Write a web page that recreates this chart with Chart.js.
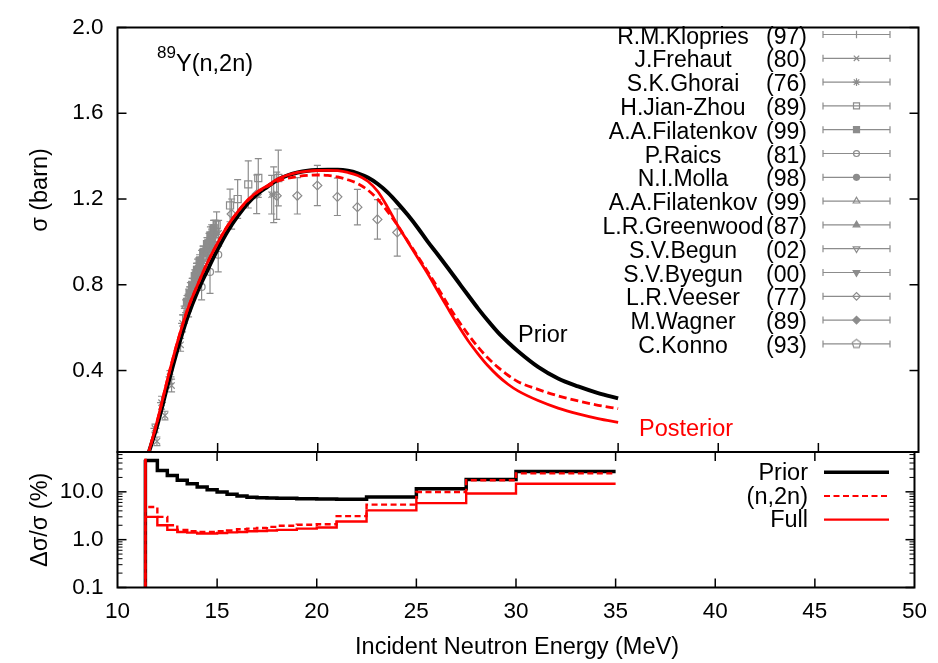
<!DOCTYPE html>
<html>
<head>
<meta charset="utf-8">
<title>89Y(n,2n)</title>
<script src="https://cdn.jsdelivr.net/npm/chart.js@4.4.0/dist/chart.umd.min.js"></script>
<style>
  html, body { margin: 0; padding: 0; background: #fff; }
  #wrap { position: relative; width: 938px; height: 663px; }
  #wrap canvas { position: absolute; left: 0; top: 0; }
</style>
</head>
<body>
<div id="wrap">
  <canvas id="xsChart" width="938" height="663"></canvas>
  <canvas id="uncChart" width="938" height="663"></canvas>
</div>
<script>
const FONT = "'Liberation Sans', Arial, Helvetica, sans-serif";
const GRAY = '#8c8c8c';
const RED = '#ff0000';

// axis ticks
const xTicks = [10, 15, 20, 25, 30, 35, 40, 45, 50];
const xsTicks = [0.4, 0.8, 1.2, 1.6, 2.0];
const uncTicks = [0.1, 1, 10];

// cross section curves (MeV, barn)
const energy = [11.5, 12.0, 12.5, 13.0, 13.5, 14.0, 14.5, 15.0, 15.5, 16.0, 16.5, 17.0, 17.5, 18.0, 18.5,
  19.0, 19.5, 20.0, 20.5, 21.0, 21.5, 22.0, 22.5, 23.0, 23.5, 24.0, 24.5, 25.0, 25.5, 26.0, 26.5, 27.0,
  27.5, 28.0, 28.5, 29.0, 29.5, 30.0, 31.0, 32.0, 33.0, 34.0, 35.0];
const priorXs = [0.0, 0.15, 0.33, 0.50, 0.65, 0.77, 0.87, 0.965, 1.05, 1.12, 1.18, 1.225, 1.258, 1.29, 1.31,
  1.324, 1.332, 1.335, 1.336, 1.336, 1.332, 1.32, 1.30, 1.27, 1.23, 1.18, 1.125, 1.065, 1.0, 0.94, 0.878, 0.815,
  0.752, 0.69, 0.632, 0.578, 0.532, 0.49, 0.417, 0.363, 0.326, 0.295, 0.27];
const n2nXs = [0.0, 0.17, 0.36, 0.535, 0.685, 0.80, 0.905, 0.995, 1.075, 1.14, 1.193, 1.232, 1.26, 1.283, 1.297,
  1.305, 1.31, 1.312, 1.31, 1.303, 1.29, 1.272, 1.242, 1.198, 1.14, 1.075, 1.003, 0.932, 0.86, 0.785, 0.707, 0.635,
  0.57, 0.51, 0.458, 0.415, 0.378, 0.348, 0.312, 0.282, 0.258, 0.238, 0.222];
const fullXs = [0.0, 0.17, 0.36, 0.535, 0.685, 0.80, 0.905, 0.995, 1.075, 1.14, 1.195, 1.235, 1.263, 1.293, 1.312,
  1.324, 1.33, 1.333, 1.334, 1.332, 1.324, 1.31, 1.283, 1.235, 1.16, 1.075, 1.0, 0.925, 0.85, 0.77, 0.69, 0.612,
  0.54, 0.478, 0.422, 0.375, 0.336, 0.305, 0.26, 0.225, 0.198, 0.176, 0.158];

// relative uncertainties (%), one value per energy bin
const binEdges = [11.4, 12.0, 12.5, 13.0, 13.5, 14.0, 14.5, 15.0, 15.5, 16.0, 16.5, 17.0, 17.5, 18.0,
  19.0, 20.0, 21.0, 22.5, 25.0, 27.5, 30.0, 32.5, 35.0];
const priorUnc = [47, 45, 28, 22, 17.4, 14.8, 12.6, 11.1, 9.9, 8.9, 8.2, 7.7, 7.5, 7.4, 7.3, 7.2, 7.1, 7.0, 7.8, 11.6, 18.2, 26.6];
const n2nUnc = [49, 4.8, 3.0, 2.0, 1.6, 1.5, 1.45, 1.45, 1.5, 1.55, 1.65, 1.7, 1.75, 1.85, 1.95, 2.05, 2.1, 3.1, 5.4, 9.9, 17.4, 24.3];
const fullUnc = [49, 3.0, 2.0, 1.6, 1.45, 1.4, 1.35, 1.35, 1.38, 1.42, 1.45, 1.5, 1.52, 1.55, 1.6, 1.7, 1.8, 2.4, 4.1, 5.8, 9.2, 14.8];

// measurements [E (MeV), sigma (b), dsigma (b)]
const klopries = [[13.33, 0.66, 0.04], [13.64, 0.77, 0.04], [13.97, 0.85, 0.05], [14.28, 0.93, 0.05], [14.57, 0.99, 0.05], [14.83, 1.05, 0.05]];
const frehaut = [[11.97, 0.07, 0.02], [12.37, 0.19, 0.02], [12.7, 0.33, 0.03], [13.15, 0.52, 0.03], [13.55, 0.69, 0.04],
  [14.05, 0.84, 0.05], [14.55, 0.96, 0.05], [15.05, 1.04, 0.06], [17.7, 1.22, 0.09]];
const ghorai = [[11.87, 0.13, 0.02], [12.2, 0.25, 0.03], [12.62, 0.37, 0.03], [13.25, 0.62, 0.04], [13.75, 0.78, 0.05],
  [14.2, 0.9, 0.06], [14.7, 1.01, 0.07], [17.8, 1.22, 0.13]];
const jianZhou = [[13.56, 0.74, 0.04], [14.0, 0.87, 0.05], [14.49, 0.97, 0.05], [14.95, 1.08, 0.06], [15.62, 1.17, 0.076],
  [16.0, 1.2, 0.09], [16.53, 1.268, 0.11], [17.03, 1.298, 0.09], [18.03, 1.298, 0.13]];
const filatenkovA = [[13.47, 0.72, 0.03], [13.6, 0.76, 0.03], [13.73, 0.8, 0.03], [13.86, 0.84, 0.03], [13.97, 0.87, 0.03],
  [14.1, 0.91, 0.03], [14.28, 0.95, 0.03], [14.47, 0.99, 0.03], [14.64, 1.03, 0.04], [14.8, 1.06, 0.04]];
const raics = [[14.2, 0.79, 0.06], [14.62, 0.86, 0.1], [15.03, 0.94, 0.08]];
const molla = [[13.64, 0.75, 0.04], [14.05, 0.85, 0.04], [14.67, 0.98, 0.05]];
const filatenkovB = [[13.4, 0.7, 0.03], [14.1, 0.89, 0.04], [14.8, 1.04, 0.04]];
const greenwood = [[14.5, 0.96, 0.05]];
const begun = [[14.3, 0.92, 0.05], [14.75, 1.02, 0.05]];
const byegun = [[13.9, 0.81, 0.04], [14.85, 1.03, 0.05]];
const veeser = [[14.7, 1.0, 0.06], [15.7, 1.13, 0.07], [16.95, 1.222, 0.09], [17.95, 1.215, 0.11], [18.98, 1.215, 0.085],
  [19.98, 1.263, 0.094], [20.98, 1.21, 0.087], [21.98, 1.162, 0.083], [22.98, 1.105, 0.092], [23.97, 1.044, 0.11]];
const wagner = [[14.1, 0.88, 0.04], [14.7, 1.0, 0.05]];
const konno = [[13.95, 0.86, 0.04], [14.9, 1.05, 0.05]];

// pentagon marker (not built in)
function pentagon(r) {
  const c = document.createElement('canvas');
  const s = Math.ceil(2 * r + 4);
  c.width = s; c.height = s;
  const g = c.getContext('2d');
  g.strokeStyle = GRAY;
  g.lineWidth = 1.2;
  g.beginPath();
  for (let i = 0; i < 5; i++) {
    const a = -Math.PI / 2 + i * 2 * Math.PI / 5;
    const px = s / 2 + r * Math.cos(a), py = s / 2 + r * Math.sin(a);
    if (i) g.lineTo(px, py); else g.moveTo(px, py);
  }
  g.closePath();
  g.stroke();
  return c;
}

const experiments = [
  { name: 'R.M.Klopries', year: '(97)', data: klopries, style: 'cross', fill: false, r: 4.5 },
  { name: 'J.Frehaut', year: '(80)', data: frehaut, style: 'crossRot', fill: false, r: 4.5 },
  { name: 'S.K.Ghorai', year: '(76)', data: ghorai, style: 'star', fill: false, r: 4.5 },
  { name: 'H.Jian-Zhou', year: '(89)', data: jianZhou, style: 'rect', fill: false, r: 5 },
  { name: 'A.A.Filatenkov', year: '(99)', data: filatenkovA, style: 'rect', fill: true, r: 5 },
  { name: 'P.Raics', year: '(81)', data: raics, style: 'circle', fill: false, r: 3.5 },
  { name: 'N.I.Molla', year: '(98)', data: molla, style: 'circle', fill: true, r: 3.5 },
  { name: 'A.A.Filatenkov', year: '(99)', data: filatenkovB, style: 'triangle', fill: false, r: 4.5 },
  { name: 'L.R.Greenwood', year: '(87)', data: greenwood, style: 'triangle', fill: true, r: 4.5 },
  { name: 'S.V.Begun', year: '(02)', data: begun, style: 'triangle', fill: false, r: 4.5, rot: 180 },
  { name: 'S.V.Byegun', year: '(00)', data: byegun, style: 'triangle', fill: true, r: 4.5, rot: 180 },
  { name: 'L.R.Veeser', year: '(77)', data: veeser, style: 'rectRot', fill: false, r: 4.5 },
  { name: 'M.Wagner', year: '(89)', data: wagner, style: 'rectRot', fill: true, r: 4.5 },
  { name: 'C.Konno', year: '(93)', data: konno, style: pentagon(4.5), fill: false, r: 4.5 }
];

Chart.defaults.font.family = FONT;
Chart.defaults.color = '#000';

function curve(ys, color, width, dash) {
  return {
    data: energy.map((e, i) => ({ x: e, y: ys[i] })),
    showLine: true, pointRadius: 0, borderColor: color, borderWidth: width,
    borderDash: dash || [], cubicInterpolationMode: 'monotone', fill: false
  };
}

function histo(vals, color, width, dash) {
  const pts = [{ x: binEdges[0], y: 1e-3 }];
  binEdges.forEach((e, i) => pts.push({ x: e, y: vals[Math.min(i, vals.length - 1)] }));
  return {
    data: pts, showLine: true, stepped: 'after', pointRadius: 0,
    borderColor: color, borderWidth: width, borderDash: dash || [], fill: false
  };
}

const expDatasets = experiments.map(ex => ({
  data: ex.data.map(p => ({ x: p[0], y: p[1] })),
  showLine: false,
  pointStyle: ex.style,
  pointRadius: ex.r,
  pointRotation: ex.rot || 0,
  pointBorderColor: GRAY,
  pointBackgroundColor: ex.fill ? GRAY : 'rgba(0,0,0,0)',
  pointBorderWidth: 1.2
}));

function marker(ctx, ex, x, y, r) {
  ctx.fillStyle = ex.fill ? GRAY : 'rgba(0,0,0,0)';
  ctx.strokeStyle = GRAY;
  ctx.lineWidth = 1.2;
  if (Chart.helpers && Chart.helpers.drawPoint) {
    Chart.helpers.drawPoint(ctx, { pointStyle: ex.style, radius: r, rotation: ex.rot || 0, borderWidth: 1.2 }, x, y);
  } else {
    ctx.beginPath(); ctx.arc(x, y, r, 0, Math.PI * 2); ctx.fill(); ctx.stroke();
  }
}

function line(ctx, x1, y1, x2, y2) {
  ctx.beginPath(); ctx.moveTo(x1, y1); ctx.lineTo(x2, y2); ctx.stroke();
}

const topDecor = {
  id: 'topDecor',
  beforeDatasetsDraw(chart) {
    const { ctx, chartArea: a } = chart;
    const xs = chart.scales.x, ys = chart.scales.y;
    ctx.save();
    ctx.beginPath(); ctx.rect(a.left, a.top, a.right - a.left, a.bottom - a.top); ctx.clip();
    ctx.strokeStyle = GRAY;
    ctx.lineWidth = 1.2;
    experiments.forEach(ex => ex.data.forEach(p => {
      const x = xs.getPixelForValue(p[0]);
      const y1 = ys.getPixelForValue(p[1] + p[2]);
      const y2 = ys.getPixelForValue(p[1] - p[2]);
      line(ctx, x, y1, x, y2);
      line(ctx, x - 3.5, y1, x + 3.5, y1);
      line(ctx, x - 3.5, y2, x + 3.5, y2);
    }));
    ctx.restore();
  },
  afterDraw(chart) {
    const { ctx, chartArea: a } = chart;
    const xs = chart.scales.x, ys = chart.scales.y;
    ctx.save();
    ctx.strokeStyle = '#000';
    ctx.lineWidth = 1.5;
    xsTicks.forEach(v => {
      const y = ys.getPixelForValue(v);
      line(ctx, a.left, y, a.left + 9, y);
      line(ctx, a.right, y, a.right - 9, y);
    });
    xTicks.slice(1, -1).forEach(v => {
      const x = xs.getPixelForValue(v);
      line(ctx, x, a.bottom, x, a.bottom - 9);
    });
    ctx.lineWidth = 2;
    ctx.strokeRect(a.left, a.top, a.right - a.left, a.bottom - a.top);

    // labels
    ctx.fillStyle = '#000';
    ctx.textBaseline = 'alphabetic';
    ctx.textAlign = 'left';
    ctx.font = '17px ' + FONT;
    ctx.fillText('89', 157, 58);
    ctx.font = '23.5px ' + FONT;
    ctx.fillText('Y(n,2n)', 176, 71);
    ctx.fillText('Prior', 518, 342);
    ctx.fillStyle = RED;
    ctx.fillText('Posterior', 639, 436);

    // y title
    ctx.fillStyle = '#000';
    ctx.save();
    ctx.translate(41, 190);
    ctx.rotate(-Math.PI / 2);
    ctx.textAlign = 'center';
    ctx.textBaseline = 'middle';
    ctx.fillText('\u03c3 (barn)', 0, 0);
    ctx.restore();

    // legend of measurements
    ctx.font = '23px ' + FONT;
    experiments.forEach((ex, i) => {
      const base = 43.5 + 23.8 * i;
      const ly = base - 9;
      ctx.fillStyle = '#000';
      ctx.textAlign = 'center';
      ctx.fillText(ex.name, 683, base);
      ctx.textAlign = 'right';
      ctx.fillText(ex.year, 807, base);
      ctx.strokeStyle = GRAY;
      ctx.lineWidth = 1.2;
      line(ctx, 823, ly, 890, ly);
      line(ctx, 823, ly - 3.5, 823, ly + 3.5);
      line(ctx, 890, ly - 3.5, 890, ly + 3.5);
      marker(ctx, ex, 856.5, ly, ex.r * 0.85);
    });
    ctx.restore();
  }
};

const bottomDecor = {
  id: 'bottomDecor',
  afterDraw(chart) {
    const { ctx, chartArea: a } = chart;
    const xs = chart.scales.x, ys = chart.scales.y;
    ctx.save();
    ctx.strokeStyle = '#000';
    ctx.lineWidth = 1.5;
    xTicks.slice(1, -1).forEach(v => {
      const x = xs.getPixelForValue(v);
      line(ctx, x, a.bottom, x, a.bottom - 9);
      line(ctx, x, a.top, x, a.top + 9);
    });
    [-1, 0, 1].forEach(n => {
      for (let k = 1; k <= 9; k++) {
        const v = k * Math.pow(10, n);
        if (v < ys.min || v > ys.max) continue;
        const y = ys.getPixelForValue(v);
        const len = k === 1 ? 9 : 5;
        ctx.lineWidth = k === 1 ? 1.5 : 1;
        line(ctx, a.left, y, a.left + len, y);
        line(ctx, a.right, y, a.right - len, y);
      }
    });
    ctx.lineWidth = 2;
    ctx.strokeRect(a.left, a.top, a.right - a.left, a.bottom - a.top);

    // legend
    ctx.font = '23.5px ' + FONT;
    ctx.fillStyle = '#000';
    ctx.textAlign = 'right';
    ctx.textBaseline = 'alphabetic';
    const rows = [
      { label: 'Prior', color: '#000', width: 3.5, dash: [] },
      { label: '(n,2n)', color: RED, width: 2.2, dash: [6, 3.5] },
      { label: 'Full', color: RED, width: 2.2, dash: [] }
    ];
    rows.forEach((r, i) => {
      const base = 480 + 23.7 * i;
      const ly = base - 7.7;
      ctx.fillStyle = '#000';
      ctx.fillText(r.label, 808, base);
      ctx.strokeStyle = r.color;
      ctx.lineWidth = r.width;
      ctx.setLineDash(r.dash);
      line(ctx, 824, ly, 889, ly);
      ctx.setLineDash([]);
    });

    // titles
    ctx.textAlign = 'center';
    ctx.textBaseline = 'middle';
    ctx.fillText('Incident Neutron Energy (MeV)', 517, 648);
    ctx.save();
    ctx.translate(41, (a.top + a.bottom) / 2);
    ctx.rotate(-Math.PI / 2);
    ctx.fillText('\u0394\u03c3/\u03c3 (%)', 0, 0);
    ctx.restore();
    ctx.restore();
  }
};

new Chart(document.getElementById('xsChart'), {
  type: 'scatter',
  data: {
    datasets: [
      curve(fullXs, RED, 2.8),
      curve(n2nXs, RED, 2.8, [8, 4]),
      curve(priorXs, '#000', 4)
    ].concat(expDatasets)
  },
  options: {
    responsive: false,
    animation: false,
    devicePixelRatio: 1,
    events: [],
    layout: { padding: { left: 0, top: 15, right: 19.5, bottom: 211 } },
    plugins: { legend: { display: false }, tooltip: { enabled: false } },
    scales: {
      x: { type: 'linear', min: 10, max: 50, display: false },
      y: {
        type: 'linear', min: 0.02, max: 2.0,
        afterFit: s => { s.width = 117.5; },
        afterBuildTicks: s => { s.ticks = xsTicks.map(v => ({ value: v })); },
        grid: { display: false, drawTicks: false },
        border: { display: false },
        ticks: { padding: 14, autoSkip: false, font: { size: 22.5 }, callback: v => v.toFixed(1) }
      }
    }
  },
  plugins: [topDecor]
});

new Chart(document.getElementById('uncChart'), {
  type: 'scatter',
  data: {
    datasets: [
      histo(fullUnc, RED, 2.4),
      histo(n2nUnc, RED, 2.4, [6, 3.5]),
      histo(priorUnc, '#000', 3.5)
    ]
  },
  options: {
    responsive: false,
    animation: false,
    devicePixelRatio: 1,
    events: [],
    layout: { padding: { left: 0, top: 452, right: 19.5, bottom: 0 } },
    plugins: { legend: { display: false }, tooltip: { enabled: false } },
    scales: {
      x: {
        type: 'linear', min: 10, max: 50, position: 'bottom',
        afterFit: s => { s.height = 75.5; },
        afterBuildTicks: s => { s.ticks = xTicks.map(v => ({ value: v })); },
        grid: { display: false, drawTicks: false },
        border: { display: false },
        ticks: { padding: 11, autoSkip: false, maxRotation: 0, font: { size: 22.5 }, callback: v => String(v) }
      },
      y: {
        type: 'logarithmic', min: 0.1, max: 68,
        afterFit: s => { s.width = 117.5; },
        afterBuildTicks: s => { s.ticks = uncTicks.map(v => ({ value: v })); },
        grid: { display: false, drawTicks: false },
        border: { display: false },
        ticks: { padding: 14, autoSkip: false, font: { size: 22.5 }, callback: v => v.toFixed(1) }
      }
    }
  },
  plugins: [bottomDecor]
});
</script>
</body>
</html>
